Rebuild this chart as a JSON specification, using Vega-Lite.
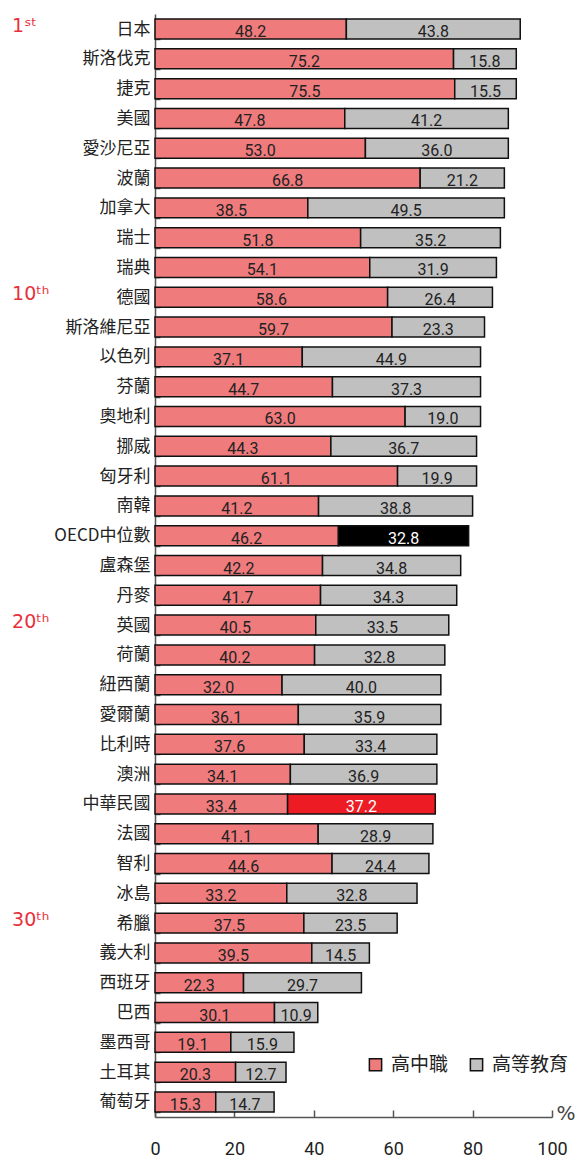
{
  "$schema": "https://vega.github.io/schema/vega-lite/v6.json",
  "autosize": "none",
  "width": 397,
  "height": 1103,
  "padding": {"left": 155, "top": 14, "right": 30, "bottom": 44},
  "background": "white",
  "config": {"view": {"stroke": null}},
  "datasets": {
    "ranks": [
      {"country": "日本", "rank": "1ˢᵗ"},
      {"country": "德國", "rank": "10ᵗʰ"},
      {"country": "英國", "rank": "20ᵗʰ"},
      {"country": "希臘", "rank": "30ᵗʰ"}
    ]
  },
  "data": {"values": [
    {"country": "日本", "type": "高中職", "value": 48.2},
    {"country": "日本", "type": "高等教育", "value": 43.8},
    {"country": "斯洛伐克", "type": "高中職", "value": 75.2},
    {"country": "斯洛伐克", "type": "高等教育", "value": 15.8},
    {"country": "捷克", "type": "高中職", "value": 75.5},
    {"country": "捷克", "type": "高等教育", "value": 15.5},
    {"country": "美國", "type": "高中職", "value": 47.8},
    {"country": "美國", "type": "高等教育", "value": 41.2},
    {"country": "愛沙尼亞", "type": "高中職", "value": 53.0},
    {"country": "愛沙尼亞", "type": "高等教育", "value": 36.0},
    {"country": "波蘭", "type": "高中職", "value": 66.8},
    {"country": "波蘭", "type": "高等教育", "value": 21.2},
    {"country": "加拿大", "type": "高中職", "value": 38.5},
    {"country": "加拿大", "type": "高等教育", "value": 49.5},
    {"country": "瑞士", "type": "高中職", "value": 51.8},
    {"country": "瑞士", "type": "高等教育", "value": 35.2},
    {"country": "瑞典", "type": "高中職", "value": 54.1},
    {"country": "瑞典", "type": "高等教育", "value": 31.9},
    {"country": "德國", "type": "高中職", "value": 58.6},
    {"country": "德國", "type": "高等教育", "value": 26.4},
    {"country": "斯洛維尼亞", "type": "高中職", "value": 59.7},
    {"country": "斯洛維尼亞", "type": "高等教育", "value": 23.3},
    {"country": "以色列", "type": "高中職", "value": 37.1},
    {"country": "以色列", "type": "高等教育", "value": 44.9},
    {"country": "芬蘭", "type": "高中職", "value": 44.7},
    {"country": "芬蘭", "type": "高等教育", "value": 37.3},
    {"country": "奧地利", "type": "高中職", "value": 63.0},
    {"country": "奧地利", "type": "高等教育", "value": 19.0},
    {"country": "挪威", "type": "高中職", "value": 44.3},
    {"country": "挪威", "type": "高等教育", "value": 36.7},
    {"country": "匈牙利", "type": "高中職", "value": 61.1},
    {"country": "匈牙利", "type": "高等教育", "value": 19.9},
    {"country": "南韓", "type": "高中職", "value": 41.2},
    {"country": "南韓", "type": "高等教育", "value": 38.8},
    {"country": "OECD中位數", "type": "高中職", "value": 46.2},
    {"country": "OECD中位數", "type": "高等教育", "value": 32.8},
    {"country": "盧森堡", "type": "高中職", "value": 42.2},
    {"country": "盧森堡", "type": "高等教育", "value": 34.8},
    {"country": "丹麥", "type": "高中職", "value": 41.7},
    {"country": "丹麥", "type": "高等教育", "value": 34.3},
    {"country": "英國", "type": "高中職", "value": 40.5},
    {"country": "英國", "type": "高等教育", "value": 33.5},
    {"country": "荷蘭", "type": "高中職", "value": 40.2},
    {"country": "荷蘭", "type": "高等教育", "value": 32.8},
    {"country": "紐西蘭", "type": "高中職", "value": 32.0},
    {"country": "紐西蘭", "type": "高等教育", "value": 40.0},
    {"country": "愛爾蘭", "type": "高中職", "value": 36.1},
    {"country": "愛爾蘭", "type": "高等教育", "value": 35.9},
    {"country": "比利時", "type": "高中職", "value": 37.6},
    {"country": "比利時", "type": "高等教育", "value": 33.4},
    {"country": "澳洲", "type": "高中職", "value": 34.1},
    {"country": "澳洲", "type": "高等教育", "value": 36.9},
    {"country": "中華民國", "type": "高中職", "value": 33.4},
    {"country": "中華民國", "type": "高等教育", "value": 37.2},
    {"country": "法國", "type": "高中職", "value": 41.1},
    {"country": "法國", "type": "高等教育", "value": 28.9},
    {"country": "智利", "type": "高中職", "value": 44.6},
    {"country": "智利", "type": "高等教育", "value": 24.4},
    {"country": "冰島", "type": "高中職", "value": 33.2},
    {"country": "冰島", "type": "高等教育", "value": 32.8},
    {"country": "希臘", "type": "高中職", "value": 37.5},
    {"country": "希臘", "type": "高等教育", "value": 23.5},
    {"country": "義大利", "type": "高中職", "value": 39.5},
    {"country": "義大利", "type": "高等教育", "value": 14.5},
    {"country": "西班牙", "type": "高中職", "value": 22.3},
    {"country": "西班牙", "type": "高等教育", "value": 29.7},
    {"country": "巴西", "type": "高中職", "value": 30.1},
    {"country": "巴西", "type": "高等教育", "value": 10.9},
    {"country": "墨西哥", "type": "高中職", "value": 19.1},
    {"country": "墨西哥", "type": "高等教育", "value": 15.9},
    {"country": "土耳其", "type": "高中職", "value": 20.3},
    {"country": "土耳其", "type": "高等教育", "value": 12.7},
    {"country": "葡萄牙", "type": "高中職", "value": 15.3},
    {"country": "葡萄牙", "type": "高等教育", "value": 14.7}
  ]},
  "transform": [
    {"stack": "value", "groupby": ["country"], "sort": [{"field": "type", "order": "ascending"}], "as": ["v0", "v1"]},
    {"calculate": "(datum.v0 + datum.v1) / 2", "as": "mid"}
  ],
  "encoding": {
    "y": {
      "field": "country",
      "type": "nominal",
      "sort": null,
      "scale": {"paddingInner": 0.33, "paddingOuter": 0.17},
      "axis": {
        "title": null,
        "domainColor": "#555",
        "domainWidth": 1.5,
        "tickBand": "extent",
        "tickSize": -5,
        "tickColor": "#555",
        "tickWidth": 1.5,
        "labelFont": "Noto Sans CJK TC",
        "labelFontSize": 17,
        "labelColor": "#222",
        "labelPadding": 10
      }
    }
  },
  "layer": [
    {
      "mark": {"type": "bar", "stroke": "#111", "strokeWidth": 1.5},
      "encoding": {
        "x": {
          "field": "v0",
          "type": "quantitative",
          "scale": {"domain": [0, 100], "nice": false},
          "axis": {
            "values": [0, 20, 40, 60, 80, 100],
            "grid": false,
            "domainColor": "#555",
            "domainWidth": 1.5,
            "tickColor": "#555",
            "tickWidth": 1.5,
            "tickSize": -7,
            "labelPadding": 30,
            "labelFont": "Roboto",
            "labelFontSize": 18,
            "labelColor": "#222",
            "labelFlush": false,
            "title": "%",
            "titleFont": "DejaVu Sans",
            "titleFontWeight": "normal",
            "titleFontSize": 20,
            "titleColor": "#444",
            "titleAnchor": "end",
            "titleAlign": "right",
            "titleBaseline": "alphabetic",
            "titleX": 420,
            "titleY": 2
          }
        },
        "x2": {"field": "v1"},
        "color": {
          "condition": [
            {"test": "datum.country === 'OECD中位數' && datum.type === '高等教育'", "value": "#000000"},
            {"test": "datum.country === '中華民國' && datum.type === '高等教育'", "value": "#ED1C24"}
          ],
          "field": "type",
          "type": "nominal",
          "scale": {"domain": ["高中職", "高等教育"], "range": ["#F07B7D", "#C0C0C0"]},
          "legend": {
            "title": null,
            "orient": "none",
            "direction": "horizontal",
            "legendX": 211,
            "legendY": 1041,
            "symbolType": "square",
            "symbolSize": 150,
            "symbolStrokeColor": "#111",
            "symbolStrokeWidth": 1.5,
            "symbolOpacity": 1,
            "labelFont": "Noto Sans CJK TC",
            "labelFontSize": 19,
            "labelColor": "#222",
            "labelOffset": 6,
            "columnPadding": 18
          }
        }
      }
    },
    {
      "mark": {"type": "text", "font": "Roboto", "fontSize": 16, "baseline": "middle", "dy": 3},
      "encoding": {
        "x": {"field": "mid", "type": "quantitative"},
        "text": {"field": "value", "type": "quantitative", "format": ".1f"},
        "color": {
          "condition": {"test": "(datum.country === 'OECD中位數' || datum.country === '中華民國') && datum.type === '高等教育'", "value": "#ffffff"},
          "value": "#222222"
        }
      }
    },
    {
      "data": {"name": "ranks"},
      "mark": {"type": "text", "align": "left", "baseline": "middle", "font": "DejaVu Sans", "fontSize": 19, "color": "#E8303A", "dy": -3},
      "encoding": {
        "x": {"datum": -36, "type": "quantitative"},
        "text": {"field": "rank"}
      }
    }
  ]
}
